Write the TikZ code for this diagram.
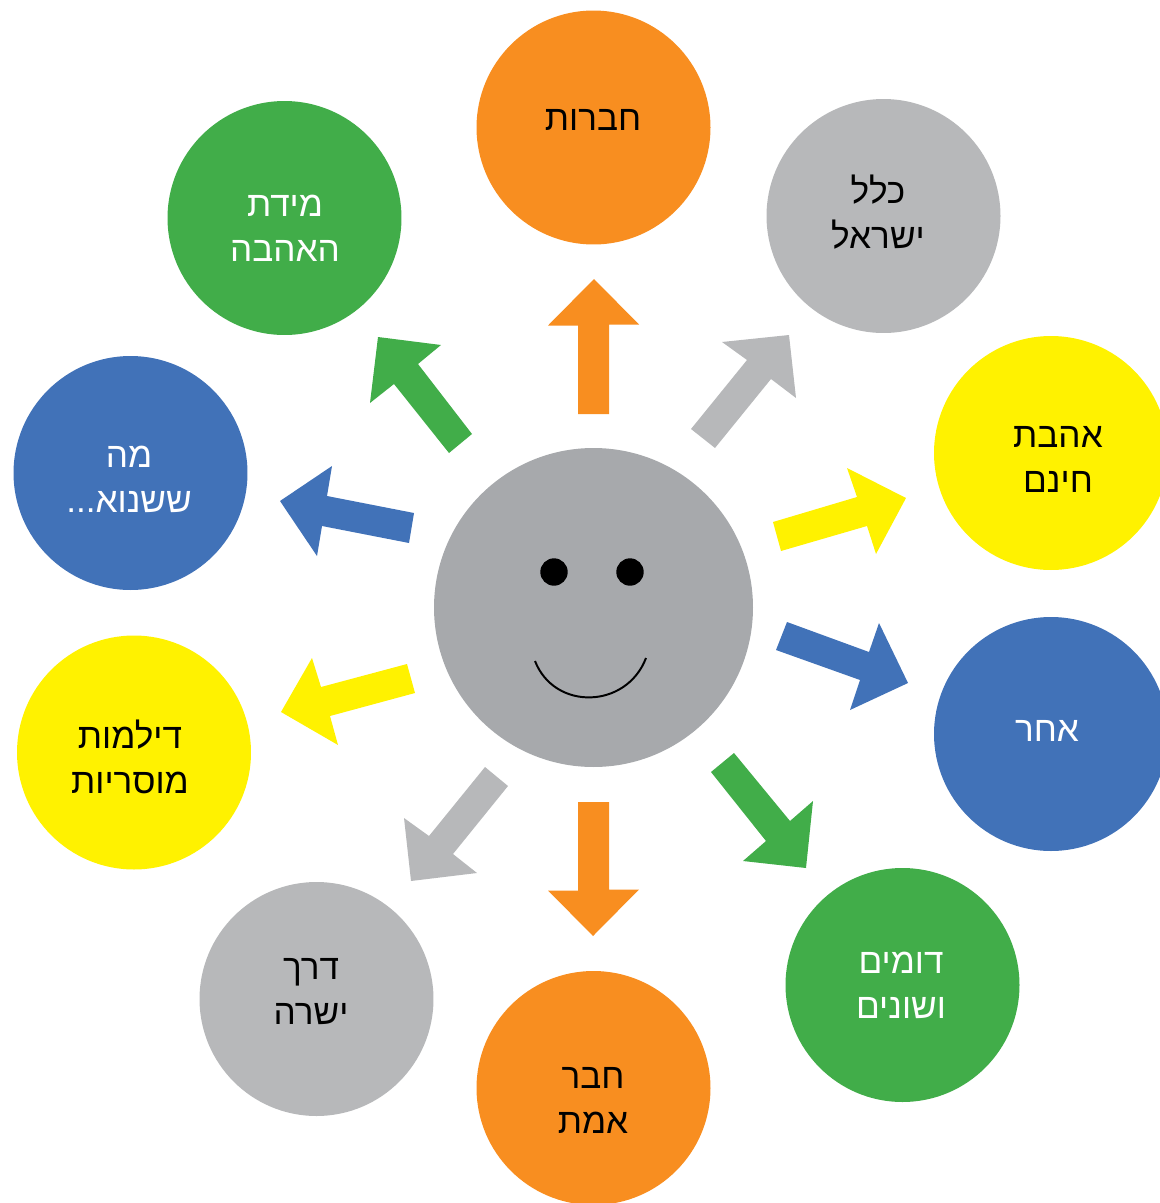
\documentclass[tikz,border=0pt]{standalone}
\usepackage{tikz}
\usepackage{fontspec}
\setmainfont[Script=Hebrew]{Liberation Sans}
\TeXXeTstate=1
\definecolor{ringorange}{HTML}{F88E20}
\definecolor{ringgray}{HTML}{B7B8BA}
\definecolor{ringyellow}{HTML}{FFF200}
\definecolor{ringblue}{HTML}{4172B8}
\definecolor{ringgreen}{HTML}{41AD49}
\definecolor{facegray}{HTML}{A7A9AC}

\begin{document}
\begin{tikzpicture}[x=0.05cm,y=0.05cm]
\tikzstyle{every node}+=[inner sep=0pt]
\tikzstyle{disc}=[circle,minimum size=11.7cm]
\tikzstyle{caption}=[align=center,font=\fontsize{50}{64}\selectfont]
\useasboundingbox (0,0) rectangle (1160,-1203);
\clip (0,0) rectangle (1160,-1203);
% face
\node [circle,minimum size=15.95cm,fill=facegray] (face) at (593.5,-607.5) {};
\node [circle,minimum size=1.37cm,fill=black] (eyeL) at (554,-572) {};
\node [circle,minimum size=1.37cm,fill=black] (eyeR) at (630,-572) {};
\draw [black,line width=2.8pt] (535,-661) .. controls (554.5,-711) and (626.5,-709) .. (646,-658);
% discs
\node [disc,fill=ringorange] (friends) at (593.5,-127.5) {};
\node [disc,fill=ringgray] (nation) at (883.5,-216) {};
\node [disc,fill=ringyellow] (love) at (1051,-453) {};
\node [disc,fill=ringblue] (other) at (1051,-734) {};
\node [disc,fill=ringgreen] (alike) at (902.5,-985) {};
\node [disc,fill=ringorange] (truefriend) at (593.5,-1088) {};
\node [disc,fill=ringgray] (path) at (316.5,-999) {};
\node [disc,fill=ringyellow] (dilemma) at (134,-752.5) {};
\node [disc,fill=ringblue] (changed) at (130.5,-473) {};
\node [disc,fill=ringgreen] (measure) at (284.5,-218) {};
% captions
\node [caption,text=black] (friendsText) at (593,-120) {\beginR חברות\endR};
\node [caption,text=black] (nationText) at (878,-212) {\beginR כלל\endR\\\beginR ישראל\endR};
\node [caption,text=black] (loveText) at (1058,-459) {\beginR אהבת\endR\\\beginR חינם\endR};
\node [caption,text=white] (otherText) at (1047,-731) {\beginR אחר\endR};
\node [caption,text=white] (alikeText) at (901,-985) {\beginR דומים\endR\\\beginR ושונים\endR};
\node [caption,text=black] (truefriendText) at (593,-1100) {\beginR חבר\endR\\\beginR אמת\endR};
\node [caption,text=black] (pathText) at (311,-992) {\beginR דרך\endR\\\beginR ישרה\endR};
\node [caption,text=black] (dilemmaText) at (130,-757) {\beginR דילמות\endR\\\beginR מוסריות\endR};
\node [caption,text=white] (changedText) at (129,-479) {\beginR מה\endR\\\beginR ששנוא...\endR};
\node [caption,text=white] (measureText) at (285,-228) {\beginR מידת\endR\\\beginR האהבה\endR};
% arrows
\fill [ringorange] (594,-279) -- (639,-324.5) -- (609,-324.5) -- (609,-414) -- (578,-414) -- (578,-325.5) -- (548,-325.5) -- cycle;
\fill [ringgray] (789,-335) -- (796,-398) -- (771,-379) -- (715,-448) -- (691,-429) -- (747,-360) -- (722,-342) -- cycle;
\fill [ringyellow] (906,-498) -- (876,-554) -- (867,-526) -- (781,-551) -- (773,-522) -- (857,-497) -- (847,-468) -- cycle;
\fill [ringblue] (908,-683) -- (850,-710) -- (860,-680) -- (776,-650) -- (787,-622) -- (869,-652) -- (879,-623) -- cycle;
\fill [ringgreen] (806,-868) -- (743,-861) -- (766,-841) -- (711,-772) -- (734,-753) -- (790,-821) -- (813,-801) -- cycle;
\fill [ringorange] (593,-936) -- (548,-890.5) -- (578,-890.5) -- (578,-802) -- (609,-802) -- (609,-889.5) -- (639,-889.5) -- cycle;
\fill [ringgray] (411,-881) -- (404,-818) -- (429,-836) -- (485,-767) -- (508,-786) -- (453,-854) -- (477,-873) -- cycle;
\fill [ringyellow] (281,-712) -- (312,-658) -- (321,-687) -- (407,-664) -- (415,-693) -- (330,-716) -- (338,-745) -- cycle;
\fill [ringblue] (280,-501) -- (332,-466) -- (327,-496) -- (414,-513) -- (409,-543) -- (322,-526) -- (317,-556) -- cycle;
\fill [ringgreen] (378,-337) -- (441,-345) -- (418,-364) -- (472,-434) -- (449,-453) -- (394,-384) -- (370,-403) -- cycle;
\end{tikzpicture}
\end{document}
